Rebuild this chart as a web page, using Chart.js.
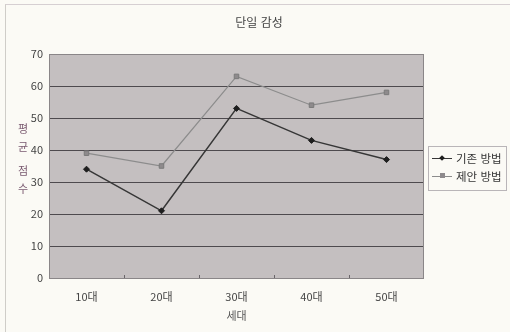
<!DOCTYPE html>
<html lang="ko">
<head>
    <meta charset="UTF-8">
    <title>단일 감성</title>
    <script src="https://cdn.jsdelivr.net/npm/chart.js"></script>
    <style>
        html, body {
            margin: 0;
            padding: 0;
            background-color: #fbfaf5;
        }

        .wrap {
            position: relative;
            width: 510px;
            height: 332px;
        }

        .frame {
            position: absolute;
            left: 5px;
            top: 4px;
            right: 0;
            bottom: 0;
            border-left: 1px solid #cfcdc8;
            border-top: 1px solid #d6cfd2;
        }

        .title {
            position: absolute;
            left: 0;
            top: 13px;
            width: 518px;
            text-align: center;
            font-family: 'Noto Sans CJK KR', sans-serif;
            font-size: 12px;
            line-height: 18px;
            color: #444;
        }

        .legend {
            position: absolute;
            left: 428px;
            top: 146px;
            width: 77px;
            height: 43px;
            border: 1px solid #b9b5b8;
            font-family: 'Noto Sans CJK KR', sans-serif;
            font-size: 11.5px;
            color: #333;
        }

        .legend .item {
            position: absolute;
            left: 3px;
            height: 14px;
            line-height: 14px;
            white-space: nowrap;
        }

        .legend .line {
            position: absolute;
            left: 0;
            top: 7px;
            width: 20px;
            height: 1px;
        }

        .legend .mark {
            position: absolute;
        }

        .legend .text {
            position: absolute;
            left: 24px;
            top: 0;
        }
    </style>
</head>
<body>
    <div class="wrap">
        <div class="frame"></div>
        <canvas id="myChart" width="510" height="332"></canvas>
        <div class="title" id="title"></div>
        <div class="legend" id="legend"></div>
    </div>

    <script>
        const titleText = '단일 감성';
        const xTitle = '세대';
        const yTitle = '평균 점수';
        const categories = ['10대', '20대', '30대', '40대', '50대'];
        const seriesNames = ['기존 방법', '제안 방법'];
        const baseValues = [34, 21, 53, 43, 37];
        const proposedValues = [39, 35, 63, 54, 58];
        const yTicks = [0, 10, 20, 30, 40, 50, 60, 70];

        const fontFamily = "'Noto Sans CJK KR', sans-serif";
        const lineColors = ['#363636', '#8c8c8c'];

        document.getElementById('title').textContent = titleText;

        // plot area background + border, y title
        const plotBg = {
            id: 'plotBg',
            beforeDraw(chart) {
                const { ctx, chartArea: a } = chart;
                ctx.save();
                ctx.fillStyle = '#c4bfc0';
                ctx.fillRect(a.left, a.top, a.right - a.left, a.bottom - a.top);
                ctx.restore();
            },
            afterDraw(chart) {
                const { ctx, chartArea: a } = chart;
                ctx.save();
                ctx.strokeStyle = '#8a8688';
                ctx.lineWidth = 1;
                ctx.strokeRect(a.left + 0.5, a.top + 0.5, a.right - a.left - 1, a.bottom - a.top);
                // small inside tick marks between categories
                const xs = chart.scales.x;
                ctx.strokeStyle = '#6a666a';
                for (let i = 1; i < categories.length; i++) {
                    const x = Math.round((xs.getPixelForValue(i - 1) + xs.getPixelForValue(i)) / 2) + 0.5;
                    ctx.beginPath();
                    ctx.moveTo(x, a.bottom);
                    ctx.lineTo(x, a.bottom - 3);
                    ctx.stroke();
                }
                // y title, stacked upright characters
                ctx.fillStyle = '#7a5a70';
                ctx.font = '11px ' + fontFamily;
                ctx.textAlign = 'center';
                ctx.textBaseline = 'middle';
                let y = 129;
                yTitle.split('').forEach(c => {
                    if (c === ' ') { y += 6; return; }
                    ctx.fillText(c, 23, y);
                    y += 18;
                });
                ctx.restore();
            }
        };

        const ctx = document.getElementById('myChart').getContext('2d');

        const myChart = new Chart(ctx, {
            type: 'line',
            data: {
                labels: categories,
                datasets: [{
                    label: seriesNames[0],
                    data: baseValues,
                    borderColor: lineColors[0],
                    borderWidth: 1.5,
                    pointStyle: 'rectRot',
                    pointRadius: 3,
                    pointBackgroundColor: '#1e1e1e',
                    pointBorderColor: '#1e1e1e',
                    pointBorderWidth: 1,
                    tension: 0
                }, {
                    label: seriesNames[1],
                    data: proposedValues,
                    borderColor: lineColors[1],
                    borderWidth: 1.2,
                    pointStyle: 'rect',
                    pointRadius: 3.2,
                    pointBackgroundColor: '#8e8a8c',
                    pointBorderColor: '#7a7a7a',
                    pointBorderWidth: 1,
                    tension: 0
                }]
            },
            options: {
                responsive: false,
                animation: false,
                layout: {
                    padding: { left: 8, right: 86, top: 54, bottom: 6 }
                },
                plugins: {
                    legend: { display: false },
                    tooltip: { enabled: false },
                    title: { display: false }
                },
                scales: {
                    x: {
                        offset: true,
                        afterFit(scale) { scale.height = 48; },
                        grid: { display: false },
                        border: { display: false },
                        ticks: {
                            color: '#444',
                            padding: 4,
                            font: { family: fontFamily, size: 11 }
                        },
                        title: {
                            display: true,
                            text: xTitle,
                            color: '#555',
                            font: { family: fontFamily, size: 11 },
                            padding: { top: 6, bottom: 4 }
                        }
                    },
                    y: {
                        min: 0,
                        max: 70,
                        afterFit(scale) { scale.width = 41; },
                        afterBuildTicks(scale) {
                            scale.ticks = yTicks.map(v => ({ value: v }));
                        },
                        grid: {
                            color: '#4e4a4e',
                            lineWidth: 1,
                            drawTicks: false
                        },
                        border: { display: false },
                        ticks: {
                            color: '#444',
                            padding: 6,
                            font: { family: fontFamily, size: 11 }
                        }
                    }
                }
            },
            plugins: [plotBg]
        });

        // html legend
        const legend = document.getElementById('legend');
        seriesNames.forEach((name, i) => {
            const item = document.createElement('div');
            item.className = 'item';
            item.style.top = (i === 0 ? 4 : 22) + 'px';
            const line = document.createElement('span');
            line.className = 'line';
            line.style.background = lineColors[i];
            const mark = document.createElement('span');
            mark.className = 'mark';
            if (i === 0) {
                mark.style.cssText = 'left:8px;top:5px;width:4px;height:4px;background:#1e1e1e;transform:rotate(45deg)';
            } else {
                mark.style.cssText = 'left:8px;top:4px;width:5px;height:5px;background:#8e8a8c;';
            }
            const text = document.createElement('span');
            text.className = 'text';
            text.textContent = name;
            item.appendChild(line);
            item.appendChild(mark);
            item.appendChild(text);
            legend.appendChild(item);
        });
    </script>
</body>
</html>
